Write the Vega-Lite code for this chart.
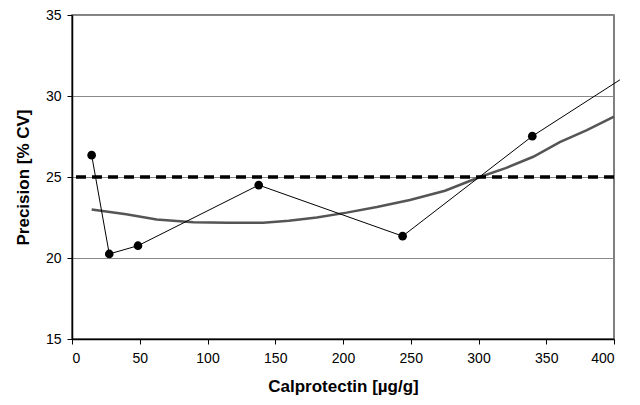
{
  "$schema": "https://vega.github.io/schema/vega-lite/v6.json",
  "width": 542,
  "height": 324,
  "padding": {"left": 72, "top": 15, "right": 26, "bottom": 66},
  "autosize": {"type": "none"},
  "background": "white",
  "config": {
    "font": "Liberation Sans",
    "view": {"stroke": "#555555", "strokeWidth": 1.5},
    "axis": {
      "labelFont": "Liberation Sans",
      "titleFont": "Liberation Sans",
      "labelFontSize": 14,
      "labelColor": "#000000",
      "titleFontSize": 17,
      "titleFontWeight": "bold",
      "titleColor": "#000000",
      "domainColor": "#000000",
      "domainWidth": 1.5,
      "tickColor": "#000000",
      "tickSize": 5,
      "tickWidth": 1
    }
  },
  "datasets": {
    "measured": [
      {"calprotectin": 14.5, "cv": 26.35},
      {"calprotectin": 27.5, "cv": 20.25},
      {"calprotectin": 48.7, "cv": 20.76},
      {"calprotectin": 137.8, "cv": 24.5},
      {"calprotectin": 244, "cv": 21.35},
      {"calprotectin": 339.7, "cv": 27.52},
      {"calprotectin": 404.4, "cv": 31.0}
    ],
    "fit": [
      {"calprotectin": 14.5, "cv": 23.0},
      {"calprotectin": 40, "cv": 22.7},
      {"calprotectin": 62.5, "cv": 22.38},
      {"calprotectin": 89.5, "cv": 22.2},
      {"calprotectin": 115, "cv": 22.18},
      {"calprotectin": 141.2, "cv": 22.18},
      {"calprotectin": 160, "cv": 22.3},
      {"calprotectin": 180.6, "cv": 22.5},
      {"calprotectin": 202.7, "cv": 22.8},
      {"calprotectin": 225, "cv": 23.15},
      {"calprotectin": 249.4, "cv": 23.58},
      {"calprotectin": 275.3, "cv": 24.15},
      {"calprotectin": 301, "cv": 25.0},
      {"calprotectin": 320, "cv": 25.55},
      {"calprotectin": 340.4, "cv": 26.25},
      {"calprotectin": 360, "cv": 27.15},
      {"calprotectin": 380, "cv": 27.9},
      {"calprotectin": 400, "cv": 28.72}
    ],
    "limit": [{"cv": 25}]
  },
  "layer": [
    {
      "data": {"name": "fit"},
      "mark": {"type": "line", "color": "#555555", "strokeWidth": 2.5},
      "encoding": {
        "x": {
          "field": "calprotectin",
          "type": "quantitative",
          "scale": {"domain": [0, 400], "nice": false, "zero": false},
          "axis": {
            "title": "Calprotectin [µg/g]",
            "values": [0, 50, 100, 150, 200, 250, 300, 350, 400],
            "grid": false,
            "labelPadding": 7,
            "titlePadding": 13
          }
        },
        "y": {
          "field": "cv",
          "type": "quantitative",
          "scale": {"domain": [15, 35], "nice": false, "zero": false},
          "axis": {
            "title": "Precision [% CV]",
            "values": [15, 20, 25, 30, 35],
            "grid": true,
            "gridColor": "#888888",
            "gridWidth": 1,
            "labelPadding": 6,
            "titlePadding": 13
          }
        }
      }
    },
    {
      "data": {"name": "limit"},
      "mark": {"type": "rule", "color": "#000000", "strokeWidth": 3.5, "strokeDash": [10, 6]},
      "encoding": {"y": {"field": "cv", "type": "quantitative"}}
    },
    {
      "data": {"name": "measured"},
      "mark": {"type": "line", "color": "#000000", "strokeWidth": 1},
      "encoding": {
        "x": {"field": "calprotectin", "type": "quantitative"},
        "y": {"field": "cv", "type": "quantitative"}
      }
    },
    {
      "data": {"name": "measured"},
      "transform": [{"filter": "datum.calprotectin <= 400"}],
      "mark": {"type": "circle", "color": "#000000", "opacity": 1, "size": 75},
      "encoding": {
        "x": {"field": "calprotectin", "type": "quantitative"},
        "y": {"field": "cv", "type": "quantitative"}
      }
    }
  ]
}
